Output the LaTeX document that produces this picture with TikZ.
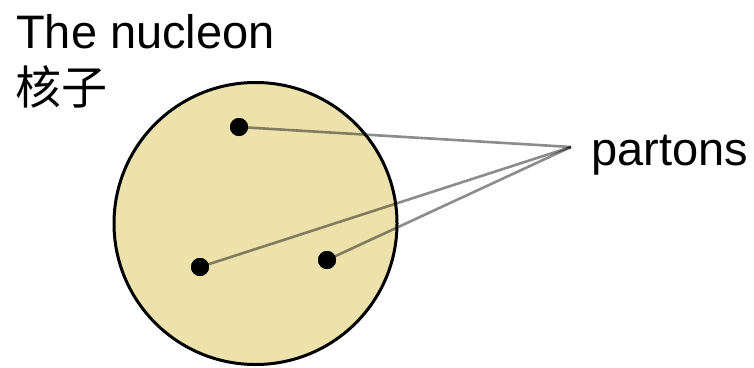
\documentclass[tikz,border=0pt]{standalone}
\usepackage{fontspec}
\usetikzlibrary{shapes.geometric}
\setmainfont{Liberation Sans}
\newfontfamily\cjk{Noto Sans CJK SC}
\definecolor{nucfill}{RGB}{238,226,172}
\tikzset{
  label text/.style={inner sep=0pt, font=\fontsize{47}{56}\selectfont},
  parton/.style={circle, fill=black, inner sep=0pt, minimum size=18pt},
  pointer/.style={draw=black, draw opacity=0.45, line width=2.6pt},
}
\begin{document}
\begin{tikzpicture}[x=1pt,y=-1pt]
\useasboundingbox (0,0) rectangle (754,367);
\node[ellipse, draw=black, line width=3pt, fill=nucfill, minimum width=283pt, minimum height=282pt, inner sep=0pt] (nucleon) at (255.5,223.5) {};
\node[label text, anchor=base west] (title) at (16,48) {The nucleon};
\node[label text, anchor=base west, font=\cjk\fontsize{46}{56}\selectfont] (cjk) at (15,104) {核子};
\node[label text, anchor=base west] (partons) at (591,165) {partons};
\coordinate (meet) at (571,147);
\node[parton] (p1) at (239,127) {};
\node[parton] (p2) at (200,267) {};
\node[parton] (p3) at (327,260) {};
\draw[pointer] (p1.center) -- (meet);
\draw[pointer] (p2.center) -- (meet);
\draw[pointer] (p3.center) -- (meet);
\node[parton] at (p1) {};
\node[parton] at (p2) {};
\node[parton] at (p3) {};
\end{tikzpicture}
\end{document}
